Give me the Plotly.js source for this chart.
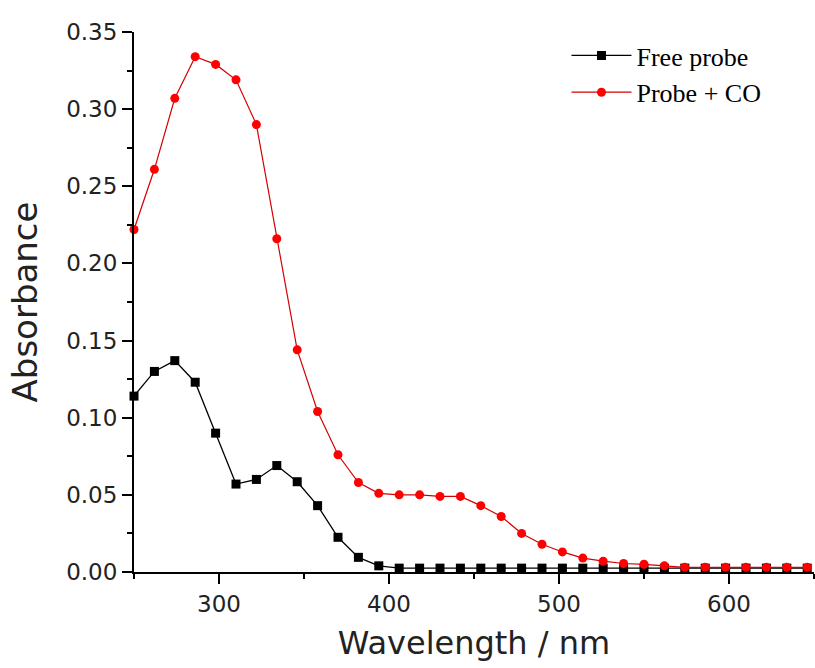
<!DOCTYPE html>
<html>
<head>
<meta charset="utf-8">
<script src="https://cdn.plot.ly/plotly-3.0.1.min.js"></script>
<style>html,body{margin:0;padding:0;background:#fff;}#chart{width:815px;height:668px;}</style>
</head>
<body>
<div id="chart"></div>
<script>
const wavelength = [250,262,274,286,298,310,322,334,346,358,370,382,394,406,418,430,442,454,466,478,490,502,514,526,538,550,562,574,586,598,610,622,634,646];
const freeProbe = [0.114,0.130,0.137,0.123,0.090,0.057,0.060,0.069,0.0585,0.043,0.0225,0.0095,0.004,
  0.0025,0.0025,0.0025,0.0025,0.0025,0.0025,0.0025,0.0025,0.0025,0.0025,0.0025,0.0025,0.0025,0.0025,0.0025,0.0025,0.0025,0.0025,0.0025,0.0025,0.0025];
const probeCO = [0.222,0.261,0.307,0.334,0.329,0.319,0.290,0.216,0.144,0.104,0.076,0.058,0.051,0.050,0.050,0.049,0.049,0.043,0.036,0.025,0.018,0.013,0.009,0.007,0.0055,0.005,0.004,0.003,0.003,0.003,0.003,0.003,0.003,0.003];
const seriesNames = ["Free probe", "Probe + CO"];

const traces = [
  {x: wavelength, y: freeProbe, name: seriesNames[0], type: 'scatter', mode: 'lines+markers',
   line: {color: '#000000', width: 1.3}, marker: {symbol: 'square', size: 9, color: '#000000'}, cliponaxis: false},
  {x: wavelength, y: probeCO, name: seriesNames[1], type: 'scatter', mode: 'lines+markers',
   line: {color: '#d40000', width: 1.2}, marker: {symbol: 'circle', size: 9, color: '#ff0000'}, cliponaxis: false}
];

const layout = {
  width: 815, height: 668,
  margin: {l: 134, r: 1, t: 32, b: 96},
  paper_bgcolor: '#ffffff', plot_bgcolor: '#ffffff',
  showlegend: true,
  legend: {x: 0.636, y: 1.0, xanchor: 'left', yanchor: 'top', itemwidth: 60,
    font: {family: 'Liberation Serif', size: 26, color: '#000'}, bgcolor: 'rgba(0,0,0,0)', tracegroupgap: 0},
  xaxis: {
    range: [250, 650], dtick: 100, tick0: 0,
    showline: true, linecolor: '#000', linewidth: 2, mirror: false,
    ticks: 'outside', ticklen: 10, tickwidth: 2, tickcolor: '#000',
    minor: {dtick: 50, tick0: 0, ticks: 'outside', ticklen: 5, tickwidth: 2, tickcolor: '#000'},
    showgrid: false, zeroline: false,
    tickfont: {family: 'DejaVu Sans', size: 23, color: '#222'},
    title: {text: 'Wavelength / nm', font: {family: 'DejaVu Sans', size: 32, color: '#222'}, standoff: 16}
  },
  yaxis: {
    range: [0, 0.35], dtick: 0.05, tick0: 0, tickformat: '.2f',
    showline: true, linecolor: '#000', linewidth: 2, mirror: false,
    ticks: 'outside', ticklen: 10, tickwidth: 2, tickcolor: '#000',
    minor: {dtick: 0.025, tick0: 0, ticks: 'outside', ticklen: 5, tickwidth: 2, tickcolor: '#000'},
    showgrid: false, zeroline: false,
    tickfont: {family: 'DejaVu Sans', size: 23, color: '#222'},
    title: {text: 'Absorbance', font: {family: 'DejaVu Sans', size: 34, color: '#222'}, standoff: 18}
  }
};

Plotly.newPlot('chart', traces, layout, {displayModeBar: false, staticPlot: true});
</script>
</body>
</html>
